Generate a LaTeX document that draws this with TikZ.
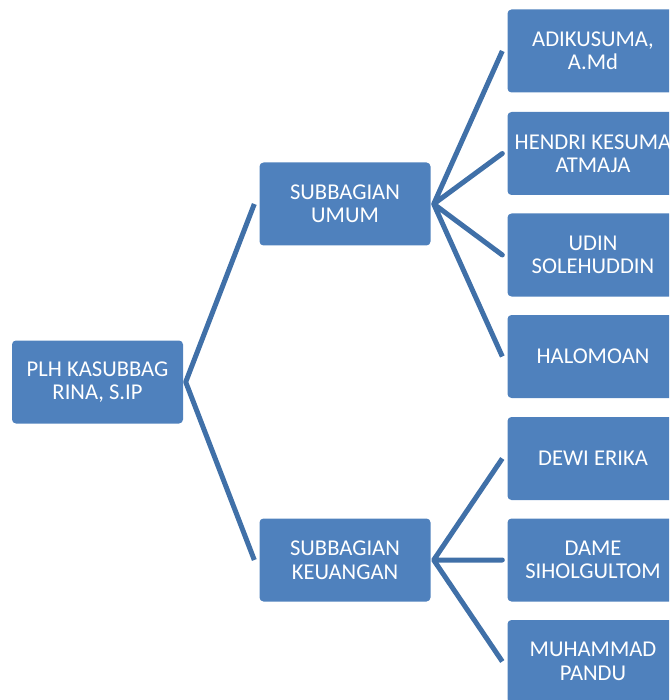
\documentclass[tikz,border=0pt]{standalone}
\usepackage{fontspec}
\setmainfont{Carlito}
\definecolor{boxblue}{HTML}{4F81BD}
\definecolor{lineblue}{HTML}{4070A8}
\begin{document}
\begin{tikzpicture}[x=1pt,y=-1pt,
  box/.style={draw=none,fill=boxblue,rounded corners=4pt,minimum width=171pt,minimum height=83pt,
    text=white,align=center,inner sep=2pt,font=\fontsize{22.6}{23.5}\selectfont},
  conn/.style={draw=lineblue,line width=5pt,line join=round}]
\useasboundingbox (0,0) rectangle (669,700);
\clip (0,0) rectangle (669,700);
\node[box] (root) at (97.5,382) {PLH KASUBBAG\\RINA, S.IP};
\node[box] (umum) at (345,204) {SUBBAGIAN\\UMUM};
\node[box] (keu) at (345,560) {SUBBAGIAN\\KEUANGAN};
\node[box] (a1) at (593,51) {ADIKUSUMA,\\A.Md};
\node[box] (a2) at (593,153.5) {HENDRI KESUMA\\ATMAJA};
\node[box] (a3) at (593,255) {UDIN\\SOLEHUDDIN};
\node[box] (a4) at (593,356.5) {HALOMOAN};
\node[box] (b1) at (593,458.5) {DEWI ERIKA};
\node[box] (b2) at (593,560) {DAME\\SIHOLGULTOM};
\node[box] (b3) at (593,661.5) {MUHAMMAD\\PANDU};
\coordinate (rj) at ([xshift=2.5pt]root.east);
\coordinate (uj) at ([xshift=3pt]umum.east);
\coordinate (kj) at ([xshift=3pt]keu.east);
\draw[conn] ([xshift=-5pt]umum.west) -- (rj) -- ([xshift=-5pt]keu.west);
\draw[conn] ([xshift=-5pt]a1.west) -- (uj) -- ([xshift=-5pt]a2.west) -- (uj) -- ([xshift=-5pt]a3.west) -- (uj) -- ([xshift=-5pt]a4.west);
\draw[conn] ([xshift=-5pt]b1.west) -- (kj) -- ([xshift=-5pt]b2.west) -- (kj) -- ([xshift=-5pt]b3.west);
\end{tikzpicture}
\end{document}
